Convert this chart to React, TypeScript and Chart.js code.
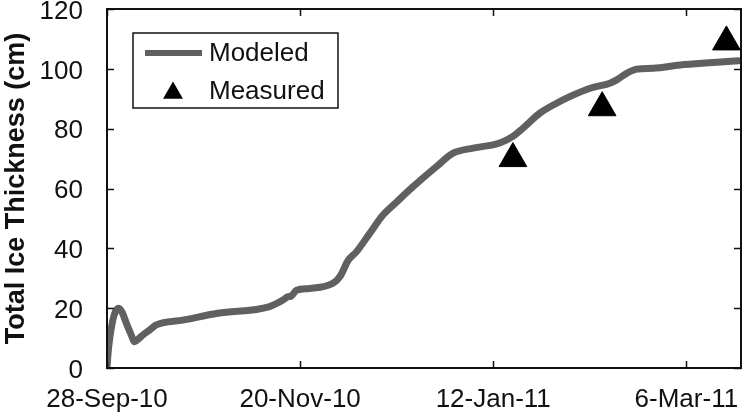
import { useEffect, useRef } from 'react';
import { Chart, registerables } from 'chart.js';

Chart.register(...registerables);

// Days since 28-Sep-10 and the tick labels shown for them
const xTickDays = [0, 53, 106, 159];
const xTickLabels = ['28-Sep-10', '20-Nov-10', '12-Jan-11', '6-Mar-11'];
const xMaxDay = 174;
const yTicks = [0, 20, 40, 60, 80, 100, 120];

// Modeled total ice thickness (cm)
const modeledDays = [
  0, 0.3, 0.7, 1.6, 2.3, 3.2, 4.2, 5.3, 6.5, 7.6, 8.7, 9.8, 11.7, 13.5, 20.8, 30.4,
  44.6, 48.3, 49.6, 50.5, 52, 55.6, 62, 63.9, 66.2, 68.5, 72.1, 75.8, 79.5, 84, 90.4,
  95, 100.5, 107.8, 111.4, 114.2, 118.8, 123.4, 127, 132.6, 138, 139.9, 142.6, 145.4,
  149.9, 157.3, 166.4, 173.3,
];
const modeledThickness = [
  0, 5, 9.4, 16, 18.8, 20, 18.5, 15, 11.5, 8.8, 9.8, 11, 12.7, 14.4, 16, 18.3,
  20.5, 22.7, 23.8, 24.0, 26, 26.6, 28.3, 30.5, 36, 38.9, 45, 51.2, 55.5, 60.6, 67.3,
  71.8, 73.5, 75.2, 77.4, 80.2, 85.2, 88.5, 90.7, 93.5, 95.2, 96.3, 98.5, 99.9,
  100.2, 101.3, 102.1, 102.7,
];

// Measured total ice thickness (cm)
const measuredDays = [111.4, 135.9, 170];
const measuredThickness = [70, 87, 109];

const seriesNames = ['Modeled', 'Measured'];
const yTitle = 'Total Ice Thickness (cm)';

const FONT = '"Liberation Sans", Arial, sans-serif';
const LINE_COLOR = '#606060';
const INK = '#111111';

const framePlugin = {
  id: 'frameAndLegend',
  afterDatasetsDraw(chart: any) {
    const { ctx, chartArea: a, scales } = chart;
    const tick = 7;
    ctx.save();
    ctx.strokeStyle = INK;
    ctx.lineWidth = 2;
    ctx.strokeRect(a.left, a.top, a.right - a.left, a.bottom - a.top);
    ctx.beginPath();
    xTickDays.forEach((d) => {
      const x = Math.round(scales.x.getPixelForValue(d)) + 0.5;
      ctx.moveTo(x, a.bottom);
      ctx.lineTo(x, a.bottom - tick);
      ctx.moveTo(x, a.top);
      ctx.lineTo(x, a.top + tick);
    });
    yTicks.forEach((v) => {
      const y = Math.round(scales.y.getPixelForValue(v)) + 0.5;
      ctx.moveTo(a.left, y);
      ctx.lineTo(a.left + tick, y);
      ctx.moveTo(a.right, y);
      ctx.lineTo(a.right - tick, y);
    });
    ctx.lineWidth = 1.5;
    ctx.stroke();

    // Legend box
    const bx = 133, by = 33, bw = 205, bh = 75;
    ctx.fillStyle = '#ffffff';
    ctx.fillRect(bx, by, bw, bh);
    ctx.lineWidth = 1.5;
    ctx.strokeStyle = INK;
    ctx.strokeRect(bx, by, bw, bh);

    ctx.strokeStyle = LINE_COLOR;
    ctx.lineWidth = 6;
    ctx.beginPath();
    ctx.moveTo(145, 53);
    ctx.lineTo(202, 53);
    ctx.stroke();

    ctx.fillStyle = '#000000';
    const r = 11.5;
    const cx = 173, cy = 93;
    ctx.beginPath();
    ctx.moveTo(cx, cy - r);
    ctx.lineTo(cx + r * Math.sin(Math.PI / 3), cy + r / 2);
    ctx.lineTo(cx - r * Math.sin(Math.PI / 3), cy + r / 2);
    ctx.closePath();
    ctx.fill();

    ctx.fillStyle = INK;
    ctx.font = `26px ${FONT}`;
    ctx.textBaseline = 'middle';
    ctx.textAlign = 'left';
    ctx.fillText(seriesNames[0], 209, 54);
    ctx.fillText(seriesNames[1], 209, 92);
    ctx.restore();
  },
};

export default function App() {
  const canvasRef = useRef<HTMLCanvasElement | null>(null);

  useEffect(() => {
    if (!canvasRef.current) return;
    const chart = new Chart(canvasRef.current, {
      type: 'line',
      data: {
        datasets: [
          {
            label: seriesNames[0],
            data: modeledDays.map((d, i) => ({ x: d, y: modeledThickness[i] })),
            borderColor: LINE_COLOR,
            borderWidth: 7,
            pointRadius: 0,
            cubicInterpolationMode: 'monotone',
            borderCapStyle: 'round',
            borderJoinStyle: 'round',
          },
          {
            label: seriesNames[1],
            data: measuredDays.map((d, i) => ({ x: d, y: measuredThickness[i] })),
            showLine: false,
            pointStyle: 'triangle',
            pointRadius: 16,
            pointBackgroundColor: '#000000',
            pointBorderColor: '#000000',
            pointBorderWidth: 1,
            clip: false,
          },
        ],
      },
      options: {
        animation: false,
        responsive: true,
        maintainAspectRatio: false,
        layout: { autoPadding: false, padding: { left: 0, top: 9, right: 10, bottom: 0 } },
        plugins: { legend: { display: false }, tooltip: { enabled: false } },
        scales: {
          x: {
            type: 'linear',
            min: 0,
            max: xMaxDay,
            grid: { display: false, drawTicks: false },
            border: { display: false },
            afterBuildTicks: (scale: any) => {
              scale.ticks = xTickDays.map((value) => ({ value }));
            },
            afterFit: (scale: any) => {
              scale.height = 46;
              scale.paddingLeft = 0;
              scale.paddingRight = 0;
            },
            ticks: {
              autoSkip: false,
              maxRotation: 0,
              padding: 16,
              color: INK,
              font: { family: FONT, size: 26 },
              callback: (v: any) => {
                const i = xTickDays.indexOf(Number(v));
                return i >= 0 ? xTickLabels[i] : '';
              },
            },
          },
          y: {
            min: 0,
            max: 120,
            grid: { display: false, drawTicks: false },
            border: { display: false },
            afterFit: (scale: any) => {
              scale.width = 107;
              scale.paddingTop = 0;
              scale.paddingBottom = 0;
            },
            ticks: {
              stepSize: 20,
              padding: 24,
              labelOffset: 2.5,
              color: INK,
              font: { family: FONT, size: 26 },
            },
            title: {
              display: true,
              text: yTitle,
              color: INK,
              padding: { top: 0, bottom: 0 },
              font: { family: FONT, size: 27, weight: 'bold' },
            },
          },
        },
      },
      plugins: [framePlugin],
    });
    return () => chart.destroy();
  }, []);

  return (
    <div style={{ position: 'fixed', left: 0, top: 0, width: 751, height: 414, background: '#fff' }}>
      <canvas ref={canvasRef} />
    </div>
  );
}
